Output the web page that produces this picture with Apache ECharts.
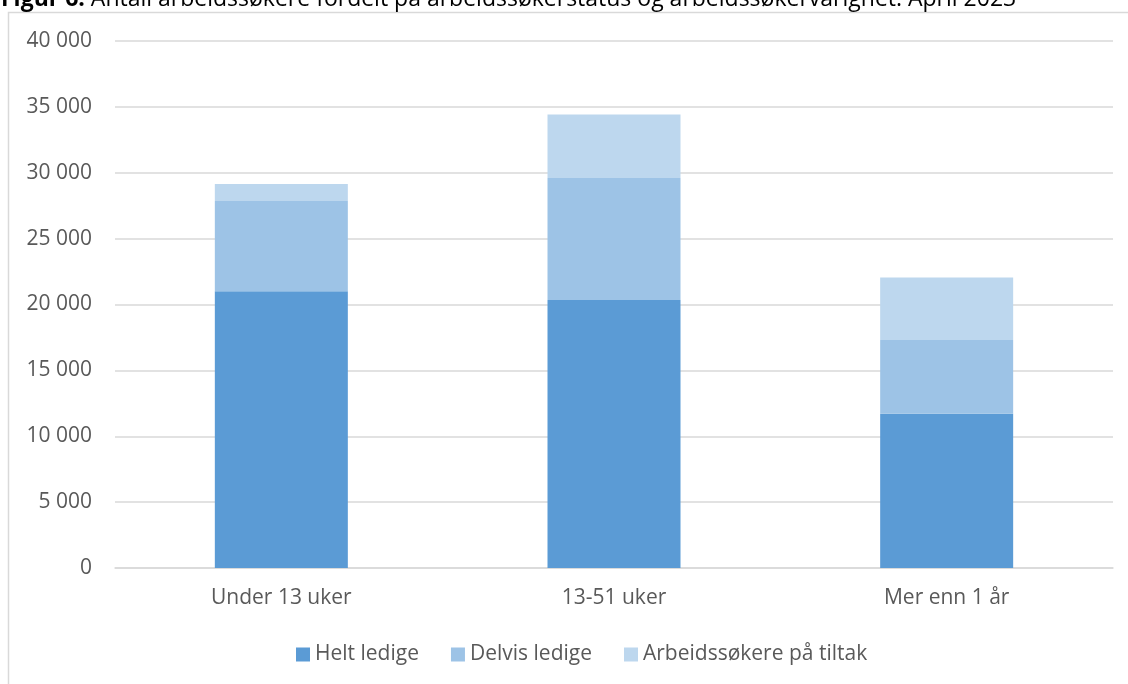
<!DOCTYPE html>
<html>
<head>
<meta charset="utf-8">
<script src="https://cdn.jsdelivr.net/npm/echarts@6/dist/echarts.min.js"></script>
<style>
  html, body { margin: 0; padding: 0; background: #fff; }
  #chart { width: 1128px; height: 684px; }
</style>
</head>
<body>
<div id="chart"></div>
<script>
  var categories = ['Under 13 uker', '13-51 uker', 'Mer enn 1 år'];
  var heltLedige = [21000, 20350, 11700];
  var delvisLedige = [6850, 9250, 5600];
  var tiltak = [1300, 4830, 4750];
  var seriesNames = ['Helt ledige', 'Delvis ledige', 'Arbeidssøkere på tiltak'];

  var font = 'Open Sans';

  function fmt(v) {
    return String(v).replace(/\B(?=(\d{3})+(?!\d))/g, ' ');
  }

  var chart = echarts.init(document.getElementById('chart'));
  chart.setOption({
    animation: false,
    color: ['#5B9BD5', '#9DC3E6', '#BDD7EE'],
    title: {
      left: -4,
      top: -17,
      text: '{b|Figur 6.} Antall arbeidssøkere fordelt på arbeidssøkerstatus og arbeidssøkervarighet. April 2023',
      textStyle: {
        fontFamily: font,
        fontSize: 23,
        fontWeight: 'normal',
        color: '#000',
        rich: {
          b: { fontFamily: font, fontSize: 23, fontWeight: 'bold', color: '#000' }
        }
      }
    },
    graphic: [{
      type: 'rect',
      shape: { x: 8.5, y: 12.5, width: 1200, height: 800 },
      style: { fill: 'none', stroke: '#D9D9D9', lineWidth: 1.5 },
      silent: true,
      z: -1
    }],
    legend: {
      data: seriesNames,
      bottom: 14,
      left: 291,
      itemWidth: 14,
      itemHeight: 14,
      itemGap: 32,
      icon: 'rect',
      textStyle: { fontFamily: font, fontSize: 21, color: '#595959' }
    },
    grid: {
      left: 115,
      right: 15,
      top: 41,
      bottom: 116,
      containLabel: false
    },
    xAxis: {
      type: 'category',
      data: categories,
      axisTick: { show: false },
      axisLine: { lineStyle: { color: '#D9D9D9', width: 1.5 } },
      axisLabel: { fontFamily: font, fontSize: 21, color: '#595959', margin: 20 }
    },
    yAxis: {
      type: 'value',
      min: 0,
      max: 40000,
      interval: 5000,
      axisLine: { show: false },
      axisTick: { show: false },
      splitLine: { lineStyle: { color: '#D9D9D9', width: 1.5 } },
      axisLabel: {
        fontFamily: font, fontSize: 21, color: '#595959', margin: 23,
        formatter: fmt
      }
    },
    series: [
      { name: seriesNames[0], type: 'bar', stack: 'total', barWidth: 133, data: heltLedige },
      { name: seriesNames[1], type: 'bar', stack: 'total', barWidth: 133, data: delvisLedige },
      { name: seriesNames[2], type: 'bar', stack: 'total', barWidth: 133, data: tiltak }
    ]
  });
</script>
</body>
</html>
